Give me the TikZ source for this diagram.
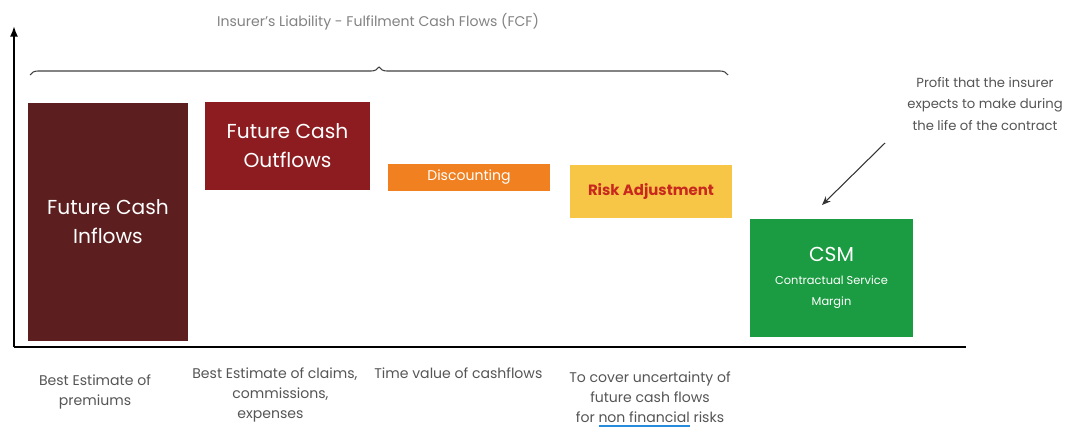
\documentclass[tikz,border=0pt]{standalone}
\usepackage{fontspec}
\setmainfont{Poppins}
\usetikzlibrary{decorations.pathreplacing,arrows.meta}
\definecolor{inflow}{RGB}{92,30,30}
\definecolor{outflow}{RGB}{140,28,32}
\definecolor{disc}{RGB}{240,128,32}
\definecolor{risk}{RGB}{247,198,70}
\definecolor{risktext}{RGB}{200,40,30}
\definecolor{csm}{RGB}{28,156,66}
\definecolor{lbl}{RGB}{85,85,85}
\definecolor{ttl}{RGB}{130,130,130}
\definecolor{ulink}{RGB}{40,140,220}
\newlength\myulw
\tikzset{
  box/.style={rectangle, inner sep=0pt, align=center, text=white},
  lab/.style={inner sep=0pt, text=lbl, font=\fontsize{8}{11.5}\selectfont},
  axis/.style={line width=1.1pt, black}
}
\begin{document}
\begin{tikzpicture}[x=0.02cm,y=-0.02cm]
\useasboundingbox (0,0) rectangle (1078,429);
% axes
\coordinate (o) at (14,347);
\coordinate (ytop) at (14,26);
\coordinate (xend) at (966,347);
\draw[axis,-{Latex[length=6pt,width=4.5pt]}] (o) -- (ytop);
\draw[axis] (o) -- (xend);
% title and brace
\node[inner sep=0pt, text=ttl, font=\fontsize{8}{10}\selectfont] (title) at (378,22) {Insurer's Liability - Fulfilment Cash Flows (FCF)};
\coordinate (bl) at (30,75);
\coordinate (br) at (728,75);
\draw[black!75, line width=0.6pt, decorate, decoration={brace, amplitude=0.16cm}] (bl) -- (br);
% boxes
\node[box, fill=inflow, minimum width=3.2cm, minimum height=4.76cm, font=\fontsize{11.5}{16.5}\selectfont] (in) at (108,222) {Future Cash\\Inflows};
\node[box, fill=outflow, minimum width=3.3cm, minimum height=1.76cm, font=\fontsize{11.5}{16.5}\selectfont] (out) at (287.5,146) {Future Cash\\Outflows};
\node[box, fill=disc, minimum width=3.24cm, minimum height=0.54cm, font=\fontsize{8}{10}\selectfont] (disc) at (469,177.5) {Discounting};
\node[box, fill=risk, text=risktext, minimum width=3.24cm, minimum height=1.06cm, font=\fontsize{8.5}{10}\selectfont\bfseries] (risk) at (651,191.5) {Risk Adjustment};
\node[box, fill=csm, minimum width=3.26cm, minimum height=2.36cm] (csm) at (831.5,278) {{\fontsize{11.5}{13}\selectfont CSM}\\[1pt]{\fontsize{6.5}{10}\selectfont Contractual Service}\\{\fontsize{6.5}{10}\selectfont Margin}};
% annotation
\node[lab, align=center, font=\fontsize{7.5}{12}\selectfont] (note) at (985,104) {Profit that the insurer\\expects to make during\\the life of the contract};
\coordinate (as) at (885,143);
\coordinate (ae) at (822,205);
\draw[black!80, line width=0.6pt, -{Stealth[length=5pt,width=4pt]}] (as) -- (ae);
% bottom labels
\node[lab, align=center] (l1) at (95,392) {Best Estimate of\\premiums};
\node[lab, align=left, anchor=north west] (l2) at (192,367) {Best Estimate of claims,\\\hspace*{0.8cm}commissions,\\\hspace*{0.9cm}expenses};
\node[lab, anchor=north west] (l3) at (374,367) {Time value of cashflows};
\node[lab, align=center] (l4) at (650,399) {To cover uncertainty of\\future cash flows\\for \settowidth{\myulw}{non financial}\rlap{\color{ulink}\rule[-2.2pt]{\myulw}{0.7pt}}non financial risks};
\end{tikzpicture}
\end{document}
